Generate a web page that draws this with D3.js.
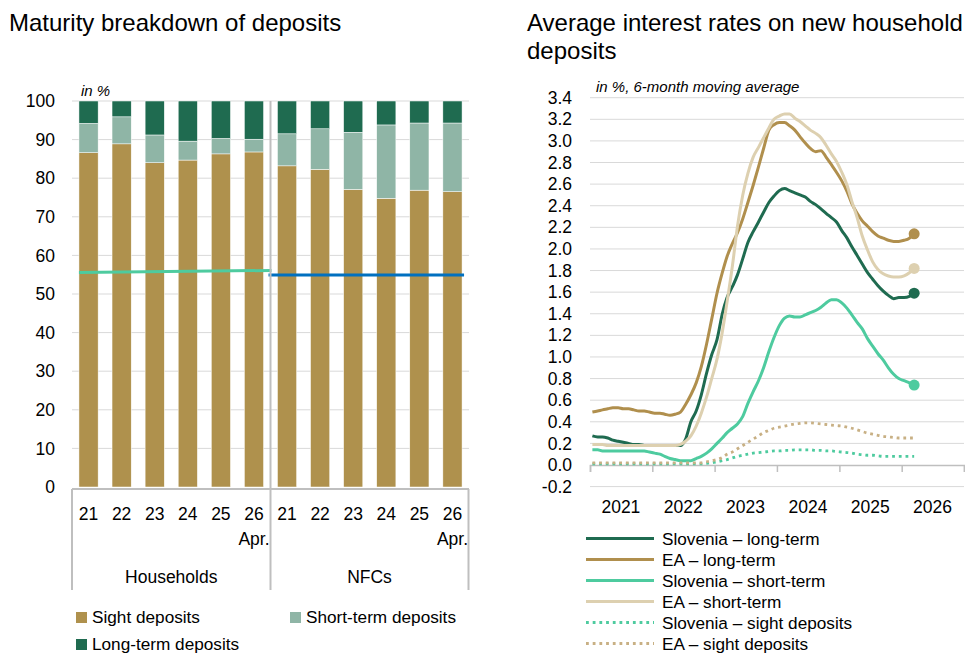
<!DOCTYPE html>
<html><head><meta charset="utf-8">
<script src="https://cdn.jsdelivr.net/npm/d3@7"></script>
<style>
body{margin:0;background:#fff;}
svg text{font-family:"Liberation Sans",Arial,sans-serif;fill:#000;}
</style></head><body>
<svg id="chart" width="965" height="655"></svg>
<script>
// ---- Maturity breakdown of deposits (shares, %) ----
const years = ["21", "22", "23", "24", "25", "26"];
const sectors = ["Households", "NFCs"];
const hhSight = [86.6, 88.9, 84.0, 84.7, 86.3, 86.8];
const hhShort = [7.6, 7.0, 7.2, 4.9, 4.0, 3.3];
const hhLong  = [5.8, 4.1, 8.8, 10.4, 9.7, 9.9];
const nfcSight = [83.2, 82.3, 77.1, 74.8, 76.9, 76.5];
const nfcShort = [8.3, 10.5, 14.8, 19.0, 17.4, 17.8];
const nfcLong  = [8.5, 7.2, 8.1, 6.2, 5.7, 5.7];
const hhRefLine = [55.6, 56.1];
const nfcRefLine = [54.9, 54.9];
const leftTicks = [0, 10, 20, 30, 40, 50, 60, 70, 80, 90, 100];

// ---- Average interest rates on new household deposits (%, 6m MA), Jan 2021 - Mar 2026 ----
const rateStart = new Date(2021, 0, 1), rateEnd = new Date(2026, 3, 1);
const slLong = [0.27,0.26,0.26,0.25,0.23,0.22,0.21,0.20,0.19,0.19,
  0.18,0.18,0.18,0.18,0.18,0.18,0.18,0.18,0.24,0.40,
  0.50,0.65,0.85,1.02,1.16,1.40,1.55,1.65,1.76,1.91,
  2.06,2.16,2.25,2.34,2.43,2.49,2.54,2.56,2.54,2.52,
  2.50,2.48,2.44,2.41,2.37,2.33,2.29,2.25,2.17,2.10,
  2.02,1.94,1.86,1.78,1.72,1.66,1.61,1.57,1.54,1.55,
  1.55,1.56,1.59];
const eaLong = [0.49,0.50,0.51,0.52,0.53,0.53,0.52,0.52,0.51,0.50,
  0.50,0.49,0.48,0.48,0.47,0.46,0.47,0.49,0.56,0.65,
  0.76,0.91,1.12,1.35,1.59,1.78,1.93,2.05,2.15,2.28,
  2.43,2.59,2.76,2.93,3.10,3.15,3.17,3.17,3.14,3.10,
  3.04,2.98,2.93,2.90,2.91,2.85,2.78,2.71,2.63,2.53,
  2.42,2.33,2.26,2.21,2.16,2.12,2.10,2.08,2.07,2.07,
  2.08,2.10,2.14];
const slShort = [0.14,0.14,0.13,0.13,0.13,0.13,0.13,0.13,0.13,0.13,
  0.13,0.12,0.11,0.10,0.08,0.06,0.05,0.04,0.04,0.04,
  0.06,0.08,0.11,0.15,0.20,0.25,0.30,0.34,0.38,0.45,
  0.57,0.68,0.78,0.90,1.05,1.18,1.29,1.36,1.38,1.37,
  1.37,1.39,1.41,1.43,1.46,1.50,1.53,1.53,1.50,1.45,
  1.39,1.32,1.26,1.17,1.10,1.03,0.97,0.90,0.84,0.80,
  0.78,0.76,0.74];
const eaShort = [0.19,0.19,0.19,0.18,0.18,0.18,0.18,0.18,0.18,0.18,
  0.18,0.18,0.18,0.18,0.18,0.18,0.18,0.19,0.22,0.27,
  0.36,0.48,0.63,0.80,0.98,1.23,1.51,1.84,2.21,2.50,
  2.70,2.85,2.94,3.03,3.12,3.20,3.23,3.25,3.25,3.21,
  3.18,3.14,3.10,3.07,3.03,2.96,2.88,2.81,2.71,2.59,
  2.44,2.29,2.12,1.99,1.88,1.81,1.77,1.75,1.74,1.74,
  1.75,1.78,1.82];
const slSight = [0.01,0.01,0.01,0.01,0.01,0.01,0.01,0.01,0.01,0.01,
  0.01,0.01,0.01,0.01,0.01,0.01,0.01,0.01,0.01,0.01,
  0.01,0.01,0.015,0.02,0.03,0.04,0.05,0.065,0.08,0.09,
  0.10,0.11,0.115,0.12,0.125,0.13,0.13,0.135,0.135,0.14,
  0.14,0.14,0.14,0.135,0.135,0.13,0.13,0.125,0.12,0.115,
  0.11,0.10,0.095,0.09,0.09,0.085,0.08,0.08,0.08,0.08,
  0.08,0.08,0.08];
const eaSight = [0.02,0.02,0.02,0.02,0.02,0.02,0.02,0.02,0.02,0.02,
  0.02,0.02,0.02,0.02,0.02,0.02,0.02,0.02,0.02,0.02,
  0.02,0.02,0.03,0.04,0.05,0.07,0.10,0.12,0.15,0.18,
  0.21,0.24,0.27,0.30,0.32,0.34,0.35,0.36,0.37,0.38,
  0.385,0.39,0.39,0.385,0.38,0.375,0.37,0.365,0.36,0.35,
  0.34,0.325,0.31,0.295,0.285,0.275,0.265,0.26,0.255,0.25,
  0.25,0.25,0.25];
const rightTicks = [-0.2,0,0.2,0.4,0.6,0.8,1.0,1.2,1.4,1.6,1.8,2.0,2.2,2.4,2.6,2.8,3.0,3.2,3.4];
const yearLabels = [2021, 2022, 2023, 2024, 2025, 2026];

const C = {
  sight: "#AF914D", short: "#8FB5A6", long: "#1F6B50",
  slLong: "#1F6B50", eaLong: "#B08F4D", slShort: "#4ECB9F", eaShort: "#DDD0B0",
  slSight: "#4ECB9F", eaSight: "#C8B084",
  grid: "#D9D9D9", axis: "#BFBFBF", hhRef: "#4ECB9F", nfcRef: "#0070C0"
};

const svg = d3.select("#chart");

// ================= Left chart =================
svg.append("text").attr("x", 9).attr("y", 31).attr("font-size", 24).text("Maturity breakdown of deposits");

const rows = [];
sectors.forEach((s, si) => {
  const sg = si === 0 ? hhSight : nfcSight, sh = si === 0 ? hhShort : nfcShort, lg = si === 0 ? hhLong : nfcLong;
  years.forEach((yr, i) => rows.push({key: s + "-" + yr, sector: s, year: yr, sight: sg[i], short: sh[i], long: lg[i]}));
});

const xL = d3.scaleBand(rows.map(r => r.key), [72, 469]).paddingInner(0.42).paddingOuter(0.21);
const yL = d3.scaleLinear([0, 100], [487, 101]);
const left = svg.append("g");

left.append("g").selectAll("line").data(leftTicks.filter(t => t > 0)).join("line")
  .attr("x1", 72).attr("x2", 469).attr("y1", d => yL(d)).attr("y2", d => yL(d))
  .attr("stroke", C.grid).attr("stroke-width", 1);

left.append("g").selectAll("text").data(leftTicks).join("text")
  .attr("x", 55).attr("y", d => yL(d)).attr("dy", "0.35em").attr("text-anchor", "end")
  .attr("font-size", 17.5).text(d => d);

left.append("text").attr("x", 81).attr("y", 96).attr("font-size", 15).attr("font-style", "italic").text("in %");

const stack = d3.stack().keys(["sight", "short", "long"])(rows);
left.append("g").selectAll("g").data(stack).join("g").attr("fill", d => C[d.key])
  .selectAll("rect").data(d => d).join("rect")
  .attr("x", d => xL(d.data.key)).attr("width", xL.bandwidth())
  .attr("y", d => yL(d[1])).attr("height", d => yL(d[0]) - yL(d[1]))
  .attr("stroke", "#fff").attr("stroke-width", 0.5);

// sector separator position
const k6 = rows[5].key, k7 = rows[6].key;
const sepX = (xL(k6) + xL.bandwidth() + xL(k7)) / 2;
const lastKey = rows[rows.length - 1].key;

// reference lines
left.append("line").attr("x1", xL(rows[0].key)).attr("x2", sepX + 1)
  .attr("y1", yL(hhRefLine[0])).attr("y2", yL(hhRefLine[1]))
  .attr("stroke", C.hhRef).attr("stroke-width", 3);
left.append("line").attr("x1", sepX - 2).attr("x2", xL(lastKey) + xL.bandwidth() + 2)
  .attr("y1", yL(nfcRefLine[0])).attr("y2", yL(nfcRefLine[1]))
  .attr("stroke", C.nfcRef).attr("stroke-width", 3);

// category axis frame
const axY = yL(0) + 2;
left.append("line").attr("x1", 72).attr("x2", 469).attr("y1", axY).attr("y2", axY).attr("stroke", C.axis).attr("stroke-width", 2);
[72, 468.5].forEach(xv => left.append("line").attr("x1", xv).attr("x2", xv).attr("y1", axY).attr("y2", 590).attr("stroke", C.axis).attr("stroke-width", 2));
left.append("line").attr("x1", sepX).attr("x2", sepX).attr("y1", yL(100)).attr("y2", 590).attr("stroke", C.axis).attr("stroke-width", 2);

left.append("g").selectAll("text").data(rows).join("text")
  .attr("x", d => xL(d.key) + xL.bandwidth() / 2).attr("y", 520).attr("text-anchor", "middle")
  .attr("font-size", 17.5).text(d => d.year);
left.append("g").selectAll("text").data(rows.filter(r => r.year === "26")).join("text")
  .attr("x", d => xL(d.key) + xL.bandwidth() / 2).attr("y", 545).attr("text-anchor", "middle")
  .attr("font-size", 17.5).text("Apr.");
left.append("g").selectAll("text").data(sectors).join("text")
  .attr("x", (d, i) => i === 0 ? (72 + sepX) / 2 : (sepX + 468.5) / 2).attr("y", 583).attr("text-anchor", "middle")
  .attr("font-size", 17.5).text(d => d);

// legend
const legL = [
  {k: "sight", t: "Sight deposits", x: 76, y: 612},
  {k: "short", t: "Short-term deposits", x: 290, y: 612},
  {k: "long", t: "Long-term deposits", x: 76, y: 639}
];
const lg = left.append("g").selectAll("g").data(legL).join("g");
lg.append("rect").attr("x", d => d.x).attr("y", d => d.y).attr("width", 11).attr("height", 11).attr("fill", d => C[d.k]);
lg.append("text").attr("x", d => d.x + 16).attr("y", d => d.y + 11).attr("font-size", 17.2).text(d => d.t);

// ================= Right chart =================
const right = svg.append("g");
right.append("text").attr("x", 527).attr("y", 31).attr("font-size", 24).text("Average interest rates on new household");
right.append("text").attr("x", 527).attr("y", 59).attr("font-size", 24).text("deposits");
right.append("text").attr("x", 596).attr("y", 92).attr("font-size", 15).attr("font-style", "italic").text("in %, 6-month moving average");

const xR = d3.scaleTime([new Date(2021, 0, 1), new Date(2027, 0, 1)], [590, 964]);
const yR = d3.scaleLinear([-0.2, 3.4], [486.6, 97.7]);
const fmt = d3.formatLocale({decimal: ".", thousands: ",", grouping: [3], currency: ["", ""], minus: "-"}).format(".1f");

right.append("g").selectAll("line").data(rightTicks.filter(t => t !== 0)).join("line")
  .attr("x1", 590).attr("x2", 964).attr("y1", d => yR(d)).attr("y2", d => yR(d))
  .attr("stroke", C.grid).attr("stroke-width", 1);
right.append("g").selectAll("text").data(rightTicks).join("text")
  .attr("x", 572).attr("y", d => yR(d)).attr("dy", "0.35em").attr("text-anchor", "end")
  .attr("font-size", 17.5).text(d => fmt(d));

// time axis on the zero line
const xAxis = right.append("g").attr("transform", `translate(0,${yR(0)})`)
  .call(d3.axisBottom(xR).ticks(d3.timeYear.every(1)).tickSize(7).tickFormat(""));
xAxis.select(".domain").attr("stroke", C.axis).attr("stroke-width", 1.5);
xAxis.selectAll(".tick line").attr("stroke", C.axis).attr("stroke-width", 1.5);
right.append("g").selectAll("text").data(yearLabels).join("text")
  .attr("x", d => xR(new Date(d, 6, 1))).attr("y", 513).attr("text-anchor", "middle")
  .attr("font-size", 17.5).text(d => d);

const months = d3.timeMonth.range(rateStart, rateEnd);
const mid = m => d3.timeDay.offset(m, 14);
const series = [
  {name: "Slovenia \u2013 long-term", vals: slLong, col: C.slLong, dot: false},
  {name: "EA \u2013 long-term", vals: eaLong, col: C.eaLong, dot: false},
  {name: "Slovenia \u2013 short-term", vals: slShort, col: C.slShort, dot: false},
  {name: "EA \u2013 short-term", vals: eaShort, col: C.eaShort, dot: false},
  {name: "Slovenia \u2013 sight deposits", vals: slSight, col: C.slSight, dot: true},
  {name: "EA \u2013 sight deposits", vals: eaSight, col: C.eaSight, dot: true}
];
const line = d3.line().x((d, i) => xR(mid(months[i]))).y(d => yR(d)).curve(d3.curveMonotoneX);

series.forEach(s => {
  right.append("path").attr("d", line(s.vals)).attr("fill", "none")
    .attr("stroke", s.col).attr("stroke-width", s.dot ? 2.8 : 3)
    .attr("stroke-dasharray", s.dot ? "2.8 3.9" : null)
    .attr("stroke-linejoin", "round");
  if (!s.dot) {
    const n = s.vals.length - 1;
    right.append("circle").attr("cx", xR(mid(months[n]))).attr("cy", yR(s.vals[n]))
      .attr("r", 5.5).attr("fill", s.col);
  }
});

// legend
const legR = right.append("g").selectAll("g").data(series).join("g")
  .attr("transform", (d, i) => `translate(0,${538.5 + i * 21})`);
legR.append("line").attr("x1", 586).attr("x2", 654).attr("y1", 0).attr("y2", 0)
  .attr("stroke", d => d.col).attr("stroke-width", d => d.dot ? 2.8 : 3)
  .attr("stroke-dasharray", d => d.dot ? "2.8 3.9" : null);
legR.append("text").attr("x", 662).attr("y", 0).attr("dy", "0.35em").attr("font-size", 17.2).text(d => d.name);
</script>
</body></html>
